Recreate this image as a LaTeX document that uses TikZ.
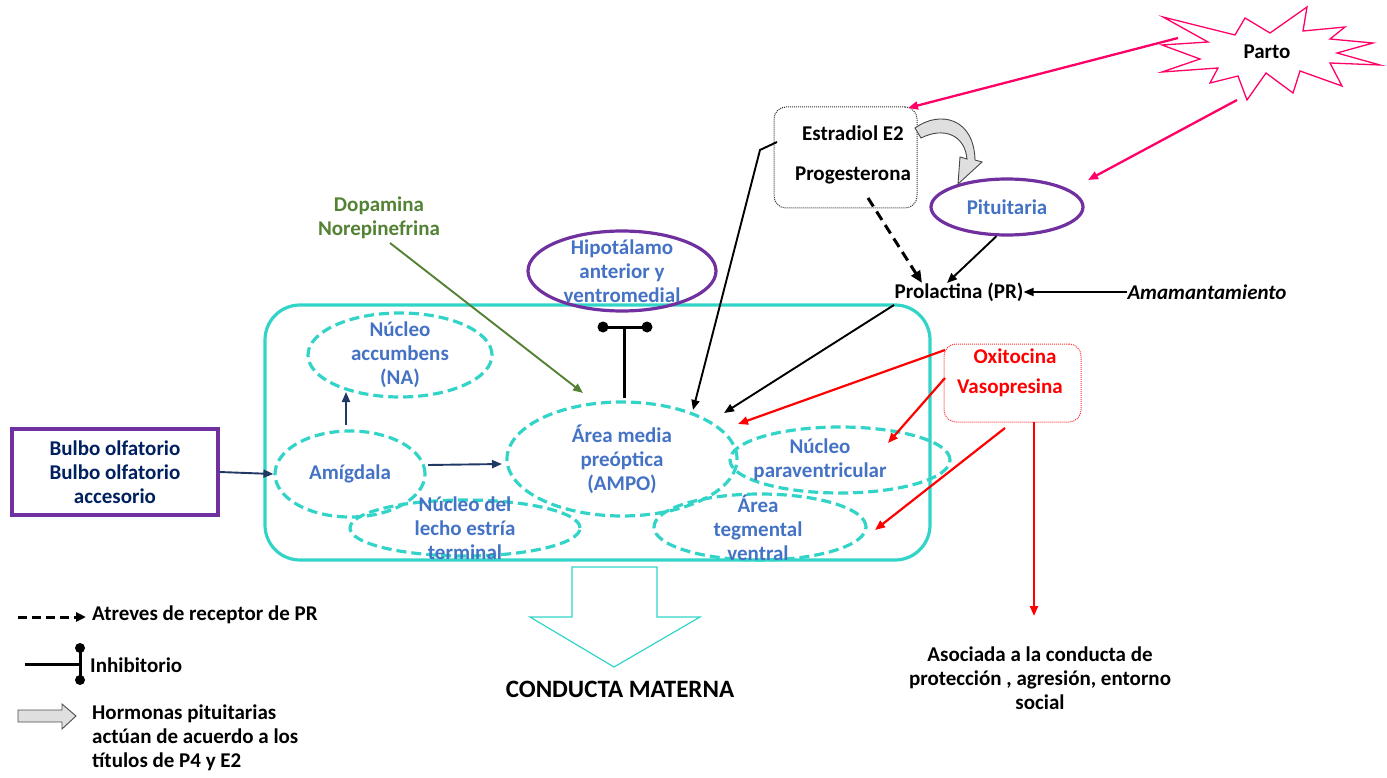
\documentclass[tikz,border=0pt]{standalone}
\usepackage{fontspec}
\setmainfont{Carlito}
\usetikzlibrary{arrows.meta,shapes.geometric}
\definecolor{cyanc}{HTML}{33D4C8}
\definecolor{purp}{HTML}{7030A0}
\definecolor{bluet}{HTML}{4472C4}
\definecolor{navyt}{HTML}{002060}
\definecolor{navya}{HTML}{1F3864}
\definecolor{greent}{HTML}{548235}
\definecolor{pinkc}{HTML}{FF0066}
\definecolor{redc}{HTML}{FF0000}
\begin{document}
\begin{tikzpicture}[x=1pt,y=-1pt,
  font=\bfseries\fontsize{21}{24}\selectfont,
  lbl/.style={align=center,inner sep=0pt},
  dell/.style={ellipse,draw=cyanc,line width=3.2pt,dash pattern=on 10pt off 5pt,inner sep=0pt},
  pell/.style={ellipse,draw=purp,line width=3.2pt,inner sep=0pt},
  arr/.style={-{Triangle[length=10pt,width=8pt]},line width=1.9pt},
  dotbox/.style={rounded corners=12pt,line width=1pt,dash pattern=on 1pt off 1pt,inner sep=0pt},
  dotc/.style={circle,fill=black,inner sep=0pt,minimum size=11pt}]
\useasboundingbox (0,0) rectangle (1387,778);

% brain region
\node[draw=cyanc,line width=3.2pt,rounded corners=35pt,minimum width=665pt,minimum height=255pt,inner sep=0pt] (brain) at (597.5,432.5) {};

% ellipses
\node[dell,minimum width=184pt,minimum height=84pt] (na) at (400,355) {};
\node[dell,minimum width=150pt,minimum height=86pt] (amig) at (350,474) {};
\node[dell,minimum width=230pt,minimum height=114pt] (ampo) at (622,459) {};
\node[dell,minimum width=230pt,minimum height=56pt] (lecho) at (465,528) {};
\node[dell,minimum width=220pt,minimum height=66pt] (pvn) at (840,460) {};
\node[dell,minimum width=212pt,minimum height=66pt] (atv) at (760,527) {};
\node[pell,minimum width=188pt,minimum height=80pt] (hipo) at (622,271) {};
\node[pell,minimum width=152pt,minimum height=56pt] (pit) at (1007,207) {};

% texts in ellipses
\node[lbl,text=bluet] at (na) {Núcleo\\accumbens\\(NA)};
\node[lbl,text=bluet] at (amig) {Amígdala};
\node[lbl,text=bluet] at (ampo) {Área media\\preóptica\\(AMPO)};
\node[lbl,text=bluet] at (465,528) {Núcleo del\\lecho estría\\terminal};
\node[lbl,text=bluet] at (820,460) {Núcleo\\paraventricular};
\node[lbl,text=bluet] at (758,528) {Área\\tegmental\\ventral};
\node[lbl,text=bluet] at (hipo) {Hipotálamo\\anterior y\\ventromedial};
\node[lbl,text=bluet] at (pit) {Pituitaria};

% boxes
\node[draw=purp,line width=3.2pt,minimum width=206pt,minimum height=86pt,inner sep=0pt] (bulbo) at (115,472) {};
\node[lbl,text=navyt] at (bulbo) {Bulbo olfatorio\\Bulbo olfatorio\\accesorio};
\node[draw=black!80,dotbox,minimum width=143pt,minimum height=101pt] (est) at (845.5,157.5) {};
\node[lbl] (e2) at (853,133) {Estradiol E2};
\node[lbl] (p4) at (853,175) {Progesterona};
\node[draw=redc!80,dotbox,minimum width=137pt,minimum height=78pt] (oxi) at (1012.5,383) {};
\node[lbl,text=redc] (oxt) at (1015,356) {Oxitocina};
\node[lbl,text=redc] (vas) at (1010,388) {Vasopresina};

\node[lbl] (prl) at (959,292) {Prolactina (PR)};
\node[lbl,font=\bfseries\itshape\fontsize{21}{24}\selectfont] (amam) at (1207,292) {Amamantamiento};
\node[lbl,text=greent] (dop) at (379,218) {Dopamina\\Norepinefrina};
\node[lbl] (asoc) at (1040,678) {Asociada a la conducta de\\protección , agresión, entorno\\social};
\node[lbl,font=\bfseries\fontsize{25}{28}\selectfont] (cond) at (620,689) {CONDUCTA MATERNA};

% Parto star
\draw[pinkc,line width=1.3pt,fill=white] (1163,17)--(1235,35)--(1245,18)--(1270,33)--(1307,7)--(1303,31)--(1345,27)--(1330,39)--(1373,43)--(1337,53)--(1380,65)--(1330,63)--(1342,86)--(1300,71)--(1293,93)--(1266,73)--(1247,100)--(1238,76)--(1210,83)--(1218,68)--(1162,72)--(1200,59)--(1162,45)--(1208,42)--cycle;
\node[lbl] (parto) at (1267,52) {Parto};
\coordinate (pa1) at (1178,38);
\coordinate (pa2) at (1237,100);

% gray curved arrow
\draw[fill=gray!25,draw=gray!55!black,line width=0.9pt] (915,128) .. controls (940,110) and (974,118) .. (975,160) -- (982,162) -- (958,184) -- (960,157) -- (967,159) .. controls (965,136) and (945,126) .. (921,138) -- cycle;

% connectors
\draw[arr,pinkc,line width=2.3pt] (pa1) -- (908,108);
\draw[arr,pinkc,line width=2.3pt] (pa2) -- (1088,180);
\draw[arr] (pit.250) -- (947,283);
\draw[-{Triangle[length=12pt,width=10pt]},line width=3pt,dash pattern=on 10pt off 6pt] (868,198) -- (922,283);
\draw[arr] (amam.west) -- (prl.east);
\draw[arr] (894,305) -- (724,413);
\draw[arr] (777,142) -- (760,150) -- (693,410);
\draw[arr,greent] (390,243) -- (583,393);
\draw[line width=3pt] (624,398) -- (624,327);
\draw[line width=3pt] (603,327) -- (647,327);
\node[dotc] at (603,327) {};
\node[dotc] at (647,327) {};
\draw[arr,navya] (346,425) -- (346,392);
\draw[arr,navya] (428,465) -- (502,464);
\draw[arr,navya] (bulbo.east) -- (amig.west);
\draw[arr,redc,line width=2.2pt] (945,350) -- (738,424);
\draw[arr,redc,line width=2.2pt] (945,378) -- (888,443);
\draw[arr,redc,line width=2.2pt] (1005,428) -- (875,530);
\draw[arr,redc,line width=2.2pt] (1034,422) -- (1034,616);

% big hollow arrow
\draw[cyanc,line width=1.2pt] (572,567)--(657,567)--(657,617)--(700,617)--(614,667)--(530,617)--(572,617)--cycle;

% legend
\coordinate (l1a) at (18,617);
\coordinate (l1b) at (86,617);
\draw[-{Triangle[length=10pt,width=9pt]},line width=3pt,dash pattern=on 9pt off 5pt] (l1a) -- (l1b);
\node[lbl,anchor=west] at (92,615) {Atreves de receptor de PR};
\draw[line width=3pt] (25,664) -- (80,664);
\draw[line width=3pt] (80,648) -- (80,680);
\node[dotc,minimum size=10pt] at (80,648) {};
\node[dotc,minimum size=10pt] at (80,680) {};
\node[lbl,anchor=west] at (90,665) {Inhibitorio};
\draw[fill=gray!25,draw=gray!60!black,line width=0.9pt] (18,710)--(62,710)--(62,704)--(76,716)--(62,729)--(62,722)--(18,722)--cycle;
\node[lbl,anchor=north west,align=left] at (92,705) {Hormonas pituitarias\\actúan de acuerdo a los\\títulos de P4 y E2};
\end{tikzpicture}
\end{document}
